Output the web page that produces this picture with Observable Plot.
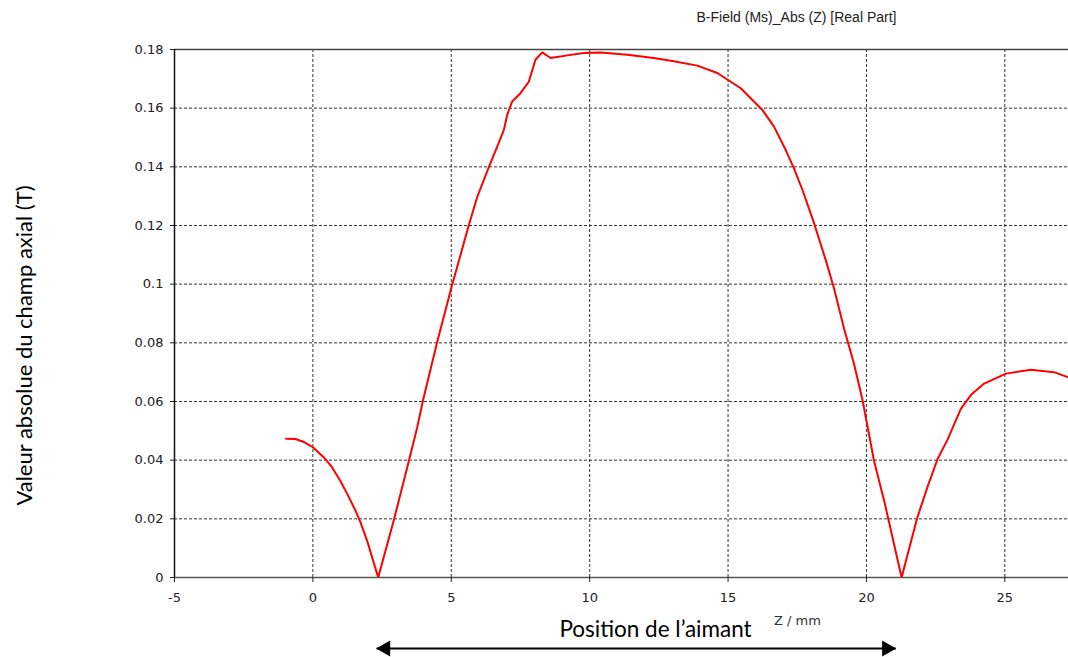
<!DOCTYPE html>
<html>
<head>
<meta charset="utf-8">
<script src="https://cdn.jsdelivr.net/npm/d3@7"></script>
<script src="https://cdn.jsdelivr.net/npm/@observablehq/plot@0.6"></script>
<style>
  html, body { margin: 0; padding: 0; background: #fff; }
  #chart { width: 1068px; height: 657px; }
</style>
</head>
<body>
<div id="chart"></div>
<script>
// Position along the axis (mm)
const zPos = [-0.97, -0.63, -0.3, 0.0, 0.39, 0.69, 0.99, 1.24, 1.54, 1.72, 1.96, 2.36, 2.92, 3.41, 3.77, 3.98, 4.49, 5.01, 5.63, 5.94, 6.36, 6.66, 6.90, 7.02, 7.20, 7.50, 7.80, 8.04, 8.29, 8.59, 9.19, 9.79, 10.39, 11.36, 12.32, 13.04, 13.89, 14.61, 15.46, 16.24, 16.66, 17.08, 17.38, 17.69, 18.11, 18.53, 18.83, 19.19, 19.55, 19.86, 20.09, 20.27, 20.64, 21.27, 21.84, 22.20, 22.57, 22.93, 23.41, 23.80, 24.25, 25.04, 25.94, 26.78, 27.30];
// |B_z| (T)
const bAbs = [0.0473, 0.0472, 0.0461, 0.0444, 0.0410, 0.0376, 0.0330, 0.0285, 0.0228, 0.0188, 0.0125, 0.0, 0.0194, 0.0376, 0.0512, 0.0604, 0.0803, 0.0990, 0.1200, 0.1298, 0.1400, 0.1469, 0.1526, 0.1577, 0.1623, 0.1651, 0.1690, 0.1765, 0.1790, 0.1771, 0.1780, 0.1788, 0.1790, 0.1782, 0.1771, 0.1760, 0.1745, 0.1720, 0.1668, 0.1594, 0.1537, 0.1458, 0.1395, 0.1321, 0.1207, 0.1082, 0.0985, 0.0849, 0.0729, 0.0604, 0.0490, 0.0399, 0.0262, 0.0, 0.0205, 0.0307, 0.0404, 0.0470, 0.0575, 0.0625, 0.0661, 0.0695, 0.0708, 0.0700, 0.0682];

const xTicks = [-5, 0, 5, 10, 15, 20, 25];
const yTicks = [0, 0.02, 0.04, 0.06, 0.08, 0.1, 0.12, 0.14, 0.16, 0.18];
const xDomain = [-5, 27.3];
const yDomain = [0, 0.18];
const magnetSpan = [2.30, 21.06];

const titleText = "B-Field (Ms)_Abs (Z) [Real Part]";
const xLabel = "Z / mm";
const yLabel = "Valeur absolue du champ axial (T)";
const magnetLabel = "Position de l\u2019aimant";

const data = zPos.map((z, i) => ({z, b: bAbs[i]}));

const tickFont = "DejaVu Sans, sans-serif";
const handFont = "Lato, Carlito, sans-serif";

const chart = Plot.plot({
  width: 1068,
  height: 657,
  marginLeft: 174,
  marginRight: 0,
  marginTop: 49,
  marginBottom: 80,
  style: {background: "#fff", fontFamily: tickFont},
  x: {domain: xDomain},
  y: {domain: yDomain},
  marks: [
    Plot.gridX(xTicks.filter(d => d > xDomain[0]), {stroke: "#333", strokeOpacity: 1, strokeDasharray: "3,2", strokeWidth: 1}),
    Plot.gridY(yTicks.filter(d => d > 0 && d < 0.18), {stroke: "#333", strokeOpacity: 1, strokeDasharray: "3,2", strokeWidth: 1}),
    Plot.ruleY([yDomain[1]], {stroke: "#444", strokeWidth: 1.5}),
    Plot.ruleY([0], {stroke: "#555", strokeWidth: 1.5}),
    Plot.ruleX([xDomain[0]], {stroke: "#111", strokeWidth: 1.5}),
    Plot.axisX({ticks: xTicks, tickFormat: d => String(d), tickSize: 5, tickPadding: 10, fontSize: 13, color: "#222", label: null}),
    Plot.axisY({ticks: yTicks, tickFormat: d3.format("~g"), tickSize: 4, tickPadding: 7, fontSize: 13, color: "#222", label: null}),
    Plot.line(data, {x: "z", y: "b", stroke: "#ff0000", strokeWidth: 2, clip: true}),
    // magnet position arrow
    Plot.link([magnetSpan], {x1: d => d[0], x2: d => d[1], y1: () => 0, y2: () => 0, dy: 71, stroke: "#000", strokeWidth: 2}),
    Plot.dot([magnetSpan[0]], {x: d => d, y: () => 0, dx: 9, dy: 71, symbol: "triangle", r: 6, fill: "#000", stroke: "none", rotate: -90}),
    Plot.dot([magnetSpan[1]], {x: d => d, y: () => 0, dx: -9, dy: 71, symbol: "triangle", r: 6, fill: "#000", stroke: "none", rotate: 90}),
    // texts
    Plot.text([titleText], {text: d => d, frameAnchor: "top", dx: 175, dy: -32, lineAnchor: "middle", fontSize: 14, fill: "#222", fontFamily: "Liberation Sans, Arial, sans-serif"}),
    Plot.text([xLabel], {text: d => d, frameAnchor: "bottom", dx: 176, dy: 43, lineAnchor: "middle", fontSize: 13, fill: "#2a3540"}),
    Plot.text([magnetLabel], {text: d => d, frameAnchor: "bottom", dx: 34, dy: 52, lineAnchor: "middle", fontSize: 22.5, fill: "#000", fontFamily: handFont}),
    Plot.text([yLabel], {text: d => d, frameAnchor: "left", textAnchor: "middle", dx: -150, dy: 32, rotate: -90, lineAnchor: "middle", fontSize: 22, fill: "#000", fontFamily: handFont})
  ]
});
document.getElementById("chart").appendChild(chart);
</script>
</body>
</html>
